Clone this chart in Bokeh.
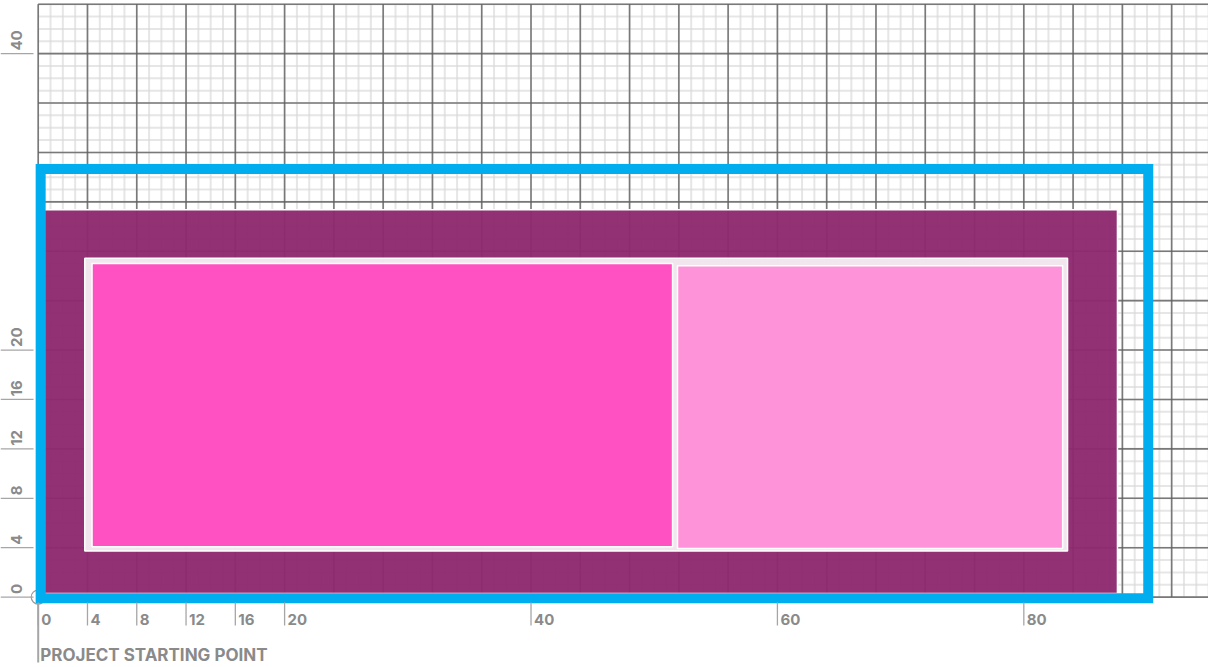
import numpy as np
from bokeh.plotting import figure
from bokeh.models import Range1d, ColumnDataSource
from bokeh.embed import file_html
from bokeh.resources import INLINE
from bokeh.core.properties import value

# ---- data -------------------------------------------------------------
x_ticks = [0, 4, 8, 12, 16, 20, 40, 60, 80]
x_tick_labels = ["0", "4", "8", "12", "16", "20", "40", "60", "80"]
y_ticks = [0, 4, 8, 12, 16, 20, 44]
y_tick_labels = ["0", "4", "8", "12", "16", "20", "40"]

grid_x_extent = 96      # graph paper width (units)
grid_y_extent = 48      # graph paper height (units)

zone_names = ["Site", "Setback", "Phase 1", "Phase 2"]
zone_left = [0.5, 3.78, 4.37, 51.89]
zone_right = [87.6, 83.55, 51.49, 83.15]
zone_bottom = [0.3, 3.73, 4.07, 3.93]
zone_top = [31.35, 27.44, 27.0, 26.82]
zone_fill = ["#8E2A6E", "#FFFFFF", "#FF4BC0", "#FF90D8"]
zone_alpha = [0.96, 0.88, 0.97, 0.97]

boundary_left = [0.2]
boundary_right = [90.1]
boundary_bottom = [-0.1]
boundary_top = [34.65]

start_label = "PROJECT STARTING POINT"

# ---- figure -----------------------------------------------------------
p = figure(width=1208, height=667,
           x_range=Range1d(-3.06, 94.99), y_range=Range1d(-5.70, 48.3),
           x_axis_type=None, y_axis_type=None,
           output_backend="svg", toolbar_location=None,
           min_border=0, outline_line_color=None)
p.grid.visible = False
p.background_fill_color = "white"
p.border_fill_color = "white"

# graph paper
minor_x = np.arange(0, grid_x_extent + 1, 1)
minor_y = np.arange(0, grid_y_extent + 1, 1)
major_x = minor_x[minor_x % 4 == 0]
major_y = minor_y[minor_y % 4 == 0]

p.segment(x0=minor_x, x1=minor_x, y0=0, y1=grid_y_extent,
          line_color="#d9d9d9", line_width=2, line_alpha=0.65)
p.segment(x0=0, x1=grid_x_extent, y0=minor_y, y1=minor_y,
          line_color="#d9d9d9", line_width=2, line_alpha=0.65)
p.segment(x0=major_x, x1=major_x, y0=0, y1=grid_y_extent,
          line_color="#5e5e5e", line_width=1.6, line_alpha=0.8)
p.segment(x0=0, x1=grid_x_extent, y0=major_y, y1=major_y,
          line_color="#5e5e5e", line_width=1.6, line_alpha=0.8)

# start point marker
p.segment(x0=[0], x1=[0], y0=[0], y1=[-5.3], line_color="#a6a6a6", line_width=2)
p.scatter(x=[0], y=[0], size=14, marker="circle", fill_color=None,
          line_color="#9a9a9a", line_width=1.2)

# zones
zones = ColumnDataSource(dict(name=zone_names, left=zone_left, right=zone_right,
                              bottom=zone_bottom, top=zone_top,
                              fill=zone_fill, alpha=zone_alpha))
p.quad(left="left", right="right", bottom="bottom", top="top", source=zones,
       fill_color="fill", fill_alpha="alpha", line_color="white", line_width=1.5)

# boundary
p.quad(left=boundary_left, right=boundary_right, bottom=boundary_bottom, top=boundary_top,
       fill_color=None, line_color="#00ADEE", line_width=10, line_join="miter")

# x ticks
p.segment(x0=x_ticks, x1=x_ticks, y0=-0.43, y1=-2.3, line_color="#a6a6a6", line_width=1.3)
p.text(x=x_ticks, y=[-1.81] * len(x_ticks), text=x_tick_labels, x_offset=3,
       text_align="left", text_baseline="alphabetic",
       text_font=value("Inter"), text_font_style="bold",
       text_font_size="15px", text_color="#8a8a8a")

# y ticks
p.segment(x0=-3.06, x1=-0.38, y0=y_ticks, y1=y_ticks, line_color="#a6a6a6", line_width=1.3)
p.text(x=[-1.76] * len(y_ticks), y=y_ticks, text=y_tick_labels, angle=np.pi / 2,
       y_offset=-3, text_align="left", text_baseline="middle",
       text_font=value("Inter"), text_font_style="bold",
       text_font_size="15px", text_color="#8a8a8a")

# start label
p.text(x=[0], y=[-5.5], text=[start_label], x_offset=2,
       text_align="left", text_baseline="bottom",
       text_font=value("Inter"), text_font_style="bold",
       text_font_size="17px", text_color="#8a8a8a")

open("out.html", "w").write(file_html(p, INLINE))
